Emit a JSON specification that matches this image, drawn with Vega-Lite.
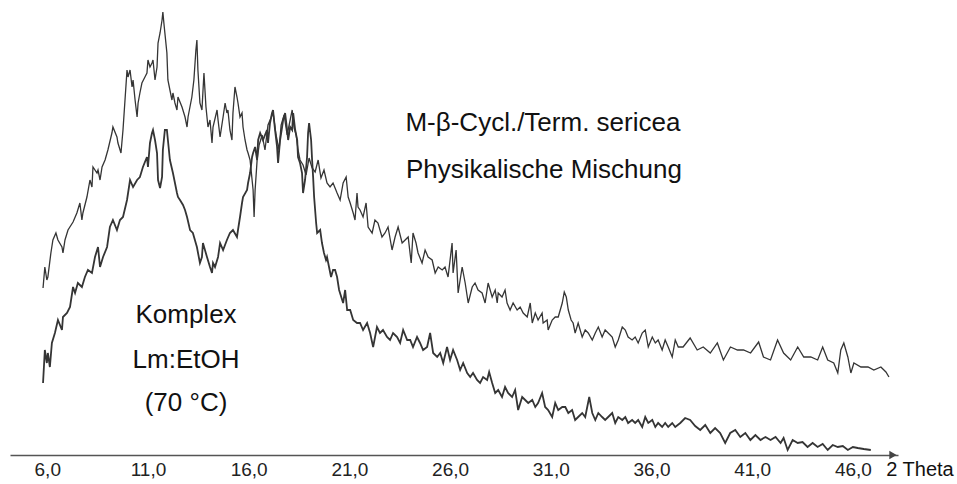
{
  "$schema": "https://vega.github.io/schema/vega-lite/v6.json",
  "width": 888,
  "height": 455,
  "autosize": {"type": "none"},
  "padding": {"left": 10, "right": 59, "top": 0, "bottom": 29},
  "background": "white",
  "config": {"view": {"stroke": null}, "font": "Liberation Sans"},
  "datasets": {
    "P": [
      {"t":5.79,"i":167},{"t":5.88,"i":188},{"t":5.98,"i":175},{"t":6.03,"i":178},{"t":6.18,"i":202},{"t":6.28,"i":215},{"t":6.43,"i":222},{"t":6.53,"i":215},{"t":6.73,"i":208},{"t":6.78,"i":202},{"t":6.88,"i":215},{"t":7.03,"i":225},{"t":7.28,"i":233},{"t":7.47,"i":242},{"t":7.62,"i":252},{"t":7.72,"i":235},{"t":7.77,"i":242},{"t":7.97,"i":258},{"t":8.12,"i":275},{"t":8.22,"i":268},{"t":8.27,"i":288},{"t":8.47,"i":282},{"t":8.52,"i":285},{"t":8.62,"i":275},{"t":8.72,"i":288},{"t":8.87,"i":295},{"t":9.01,"i":305},{"t":9.21,"i":322},{"t":9.26,"i":328},{"t":9.46,"i":318},{"t":9.51,"i":312},{"t":9.66,"i":302},{"t":9.76,"i":325},{"t":9.86,"i":355},{"t":9.96,"i":385},{"t":10.01,"i":378},{"t":10.11,"i":385},{"t":10.21,"i":368},{"t":10.26,"i":375},{"t":10.36,"i":355},{"t":10.46,"i":338},{"t":10.51,"i":352},{"t":10.60,"i":362},{"t":10.70,"i":372},{"t":10.85,"i":378},{"t":10.95,"i":382},{"t":11.00,"i":395},{"t":11.10,"i":388},{"t":11.20,"i":392},{"t":11.25,"i":395},{"t":11.35,"i":375},{"t":11.45,"i":388},{"t":11.50,"i":412},{"t":11.60,"i":422},{"t":11.70,"i":435},{"t":11.74,"i":443},{"t":11.79,"i":432},{"t":11.84,"i":422},{"t":11.94,"i":402},{"t":11.99,"i":375},{"t":12.09,"i":365},{"t":12.19,"i":355},{"t":12.24,"i":362},{"t":12.34,"i":352},{"t":12.44,"i":345},{"t":12.49,"i":358},{"t":12.69,"i":348},{"t":12.84,"i":338},{"t":12.94,"i":328},{"t":12.99,"i":338},{"t":13.18,"i":358},{"t":13.28,"i":375},{"t":13.38,"i":405},{"t":13.43,"i":415},{"t":13.48,"i":385},{"t":13.58,"i":352},{"t":13.68,"i":345},{"t":13.78,"i":382},{"t":13.88,"i":348},{"t":13.98,"i":328},{"t":14.08,"i":335},{"t":14.18,"i":312},{"t":14.23,"i":328},{"t":14.43,"i":345},{"t":14.48,"i":335},{"t":14.58,"i":318},{"t":14.73,"i":338},{"t":14.83,"i":352},{"t":14.92,"i":342},{"t":14.97,"i":345},{"t":15.07,"i":325},{"t":15.17,"i":315},{"t":15.22,"i":342},{"t":15.32,"i":368},{"t":15.42,"i":358},{"t":15.47,"i":352},{"t":15.57,"i":338},{"t":15.67,"i":342},{"t":15.72,"i":328},{"t":15.82,"i":315},{"t":15.92,"i":305},{"t":15.97,"i":302},{"t":16.07,"i":295},{"t":16.12,"i":285},{"t":16.22,"i":265},{"t":16.27,"i":238},{"t":16.32,"i":265},{"t":16.42,"i":295},{"t":16.52,"i":310},{"t":16.67,"i":320},{"t":16.81,"i":305},{"t":16.96,"i":330},{"t":17.11,"i":337},{"t":17.21,"i":343},{"t":17.36,"i":320},{"t":17.51,"i":305},{"t":17.61,"i":330},{"t":17.76,"i":340},{"t":17.91,"i":320},{"t":18.06,"i":335},{"t":18.16,"i":345},{"t":18.26,"i":327},{"t":18.36,"i":320},{"t":18.45,"i":305},{"t":18.55,"i":295},{"t":18.70,"i":290},{"t":18.85,"i":280},{"t":19.00,"i":297},{"t":19.15,"i":287},{"t":19.30,"i":283},{"t":19.45,"i":295},{"t":19.59,"i":277},{"t":19.74,"i":285},{"t":19.89,"i":272},{"t":20.04,"i":268},{"t":20.19,"i":272},{"t":20.39,"i":262},{"t":20.54,"i":255},{"t":20.69,"i":272},{"t":20.84,"i":278},{"t":20.94,"i":258},{"t":21.04,"i":252},{"t":21.19,"i":242},{"t":21.28,"i":235},{"t":21.38,"i":262},{"t":21.43,"i":248},{"t":21.53,"i":245},{"t":21.68,"i":238},{"t":21.83,"i":252},{"t":21.93,"i":228},{"t":22.13,"i":222},{"t":22.27,"i":235},{"t":22.42,"i":232},{"t":22.62,"i":218},{"t":22.77,"i":222},{"t":22.92,"i":228},{"t":23.12,"i":205},{"t":23.27,"i":218},{"t":23.42,"i":228},{"t":23.62,"i":212},{"t":23.77,"i":215},{"t":23.92,"i":218},{"t":24.07,"i":192},{"t":24.16,"i":222},{"t":24.31,"i":212},{"t":24.41,"i":202},{"t":24.61,"i":192},{"t":24.76,"i":205},{"t":24.91,"i":198},{"t":25.11,"i":195},{"t":25.26,"i":182},{"t":25.41,"i":188},{"t":25.61,"i":185},{"t":25.75,"i":188},{"t":25.90,"i":178},{"t":26.10,"i":212},{"t":26.15,"i":182},{"t":26.30,"i":205},{"t":26.40,"i":162},{"t":26.60,"i":188},{"t":26.75,"i":172},{"t":26.90,"i":152},{"t":27.10,"i":168},{"t":27.24,"i":172},{"t":27.39,"i":165},{"t":27.59,"i":162},{"t":27.74,"i":152},{"t":27.89,"i":172},{"t":28.09,"i":158},{"t":28.24,"i":165},{"t":28.34,"i":152},{"t":28.39,"i":162},{"t":28.58,"i":158},{"t":28.73,"i":165},{"t":28.83,"i":152},{"t":28.98,"i":145},{"t":29.13,"i":152},{"t":29.33,"i":145},{"t":29.48,"i":148},{"t":29.63,"i":142},{"t":29.83,"i":138},{"t":29.98,"i":152},{"t":30.08,"i":132},{"t":30.23,"i":142},{"t":30.37,"i":135},{"t":30.57,"i":142},{"t":30.62,"i":132},{"t":30.82,"i":135},{"t":30.87,"i":125},{"t":31.07,"i":135},{"t":31.22,"i":138},{"t":31.37,"i":138},{"t":31.57,"i":152},{"t":31.67,"i":163},{"t":31.77,"i":158},{"t":31.87,"i":145},{"t":32.01,"i":135},{"t":32.11,"i":132},{"t":32.21,"i":122},{"t":32.36,"i":132},{"t":32.56,"i":118},{"t":32.71,"i":125},{"t":32.86,"i":122},{"t":33.06,"i":115},{"t":33.21,"i":122},{"t":33.36,"i":128},{"t":33.55,"i":118},{"t":33.70,"i":125},{"t":33.85,"i":122},{"t":34.05,"i":118},{"t":34.20,"i":108},{"t":34.35,"i":115},{"t":34.55,"i":128},{"t":34.70,"i":125},{"t":34.84,"i":118},{"t":35.04,"i":115},{"t":35.19,"i":118},{"t":35.34,"i":112},{"t":35.54,"i":122},{"t":35.69,"i":125},{"t":35.84,"i":108},{"t":36.04,"i":118},{"t":36.19,"i":112},{"t":36.33,"i":115},{"t":36.53,"i":105},{"t":36.68,"i":115},{"t":36.83,"i":108},{"t":37.03,"i":98},{"t":37.18,"i":115},{"t":37.33,"i":108},{"t":37.57,"i":108},{"t":37.92,"i":117},{"t":38.27,"i":105},{"t":38.57,"i":108},{"t":38.92,"i":102},{"t":39.27,"i":112},{"t":39.57,"i":95},{"t":39.92,"i":108},{"t":40.27,"i":105},{"t":40.57,"i":105},{"t":40.92,"i":102},{"t":41.32,"i":113},{"t":41.56,"i":98},{"t":41.91,"i":95},{"t":42.26,"i":115},{"t":42.56,"i":102},{"t":42.91,"i":95},{"t":43.26,"i":108},{"t":43.56,"i":98},{"t":43.91,"i":98},{"t":44.25,"i":95},{"t":44.50,"i":108},{"t":44.75,"i":95},{"t":45.05,"i":92},{"t":45.25,"i":82},{"t":45.40,"i":105},{"t":45.55,"i":112},{"t":45.75,"i":98},{"t":45.90,"i":82},{"t":46.05,"i":92},{"t":46.40,"i":88},{"t":46.75,"i":88},{"t":47.04,"i":85},{"t":47.39,"i":88},{"t":47.64,"i":83},{"t":47.79,"i":78}
    ],
    "K": [
      {"t":5.79,"i":72},{"t":5.88,"i":105},{"t":5.98,"i":92},{"t":6.03,"i":102},{"t":6.13,"i":88},{"t":6.23,"i":112},{"t":6.38,"i":122},{"t":6.53,"i":135},{"t":6.73,"i":125},{"t":6.78,"i":138},{"t":6.98,"i":142},{"t":7.13,"i":148},{"t":7.28,"i":168},{"t":7.38,"i":162},{"t":7.52,"i":172},{"t":7.72,"i":168},{"t":7.87,"i":178},{"t":8.02,"i":185},{"t":8.22,"i":182},{"t":8.37,"i":198},{"t":8.52,"i":208},{"t":8.62,"i":188},{"t":8.77,"i":198},{"t":8.97,"i":208},{"t":9.11,"i":228},{"t":9.26,"i":235},{"t":9.46,"i":225},{"t":9.61,"i":235},{"t":9.76,"i":238},{"t":9.96,"i":255},{"t":10.11,"i":275},{"t":10.26,"i":268},{"t":10.46,"i":275},{"t":10.60,"i":278},{"t":10.75,"i":288},{"t":10.95,"i":298},{"t":11.00,"i":288},{"t":11.10,"i":312},{"t":11.20,"i":322},{"t":11.25,"i":325},{"t":11.35,"i":315},{"t":11.45,"i":302},{"t":11.50,"i":275},{"t":11.60,"i":267},{"t":11.70,"i":278},{"t":11.74,"i":305},{"t":11.84,"i":325},{"t":11.94,"i":325},{"t":11.99,"i":315},{"t":12.09,"i":295},{"t":12.24,"i":282},{"t":12.44,"i":262},{"t":12.49,"i":258},{"t":12.59,"i":255},{"t":12.74,"i":250},{"t":12.84,"i":245},{"t":12.94,"i":238},{"t":13.09,"i":225},{"t":13.23,"i":222},{"t":13.43,"i":208},{"t":13.58,"i":192},{"t":13.68,"i":198},{"t":13.73,"i":212},{"t":13.93,"i":198},{"t":14.08,"i":188},{"t":14.18,"i":182},{"t":14.23,"i":192},{"t":14.33,"i":188},{"t":14.48,"i":198},{"t":14.58,"i":212},{"t":14.73,"i":205},{"t":14.92,"i":215},{"t":15.07,"i":222},{"t":15.22,"i":225},{"t":15.42,"i":218},{"t":15.47,"i":225},{"t":15.57,"i":238},{"t":15.67,"i":252},{"t":15.72,"i":258},{"t":15.92,"i":265},{"t":15.97,"i":272},{"t":16.07,"i":282},{"t":16.17,"i":298},{"t":16.22,"i":302},{"t":16.32,"i":308},{"t":16.42,"i":295},{"t":16.47,"i":315},{"t":16.57,"i":322},{"t":16.71,"i":315},{"t":16.91,"i":325},{"t":16.96,"i":312},{"t":17.06,"i":332},{"t":17.16,"i":342},{"t":17.21,"i":345},{"t":17.31,"i":325},{"t":17.41,"i":308},{"t":17.46,"i":292},{"t":17.56,"i":315},{"t":17.66,"i":328},{"t":17.71,"i":335},{"t":17.81,"i":342},{"t":17.91,"i":325},{"t":17.96,"i":315},{"t":18.06,"i":328},{"t":18.16,"i":325},{"t":18.21,"i":342},{"t":18.31,"i":325},{"t":18.41,"i":315},{"t":18.45,"i":298},{"t":18.55,"i":292},{"t":18.65,"i":282},{"t":18.70,"i":262},{"t":18.80,"i":275},{"t":18.90,"i":298},{"t":18.95,"i":322},{"t":19.00,"i":332},{"t":19.10,"i":315},{"t":19.15,"i":295},{"t":19.20,"i":278},{"t":19.25,"i":258},{"t":19.35,"i":232},{"t":19.40,"i":222},{"t":19.55,"i":225},{"t":19.64,"i":212},{"t":19.74,"i":202},{"t":19.84,"i":195},{"t":19.89,"i":198},{"t":19.99,"i":188},{"t":20.09,"i":178},{"t":20.19,"i":185},{"t":20.29,"i":185},{"t":20.39,"i":178},{"t":20.49,"i":165},{"t":20.69,"i":152},{"t":20.79,"i":165},{"t":20.89,"i":145},{"t":21.04,"i":145},{"t":21.19,"i":135},{"t":21.38,"i":132},{"t":21.53,"i":132},{"t":21.68,"i":125},{"t":21.88,"i":132},{"t":22.03,"i":122},{"t":22.18,"i":108},{"t":22.37,"i":128},{"t":22.52,"i":122},{"t":22.67,"i":125},{"t":22.87,"i":118},{"t":23.02,"i":115},{"t":23.17,"i":122},{"t":23.37,"i":118},{"t":23.52,"i":112},{"t":23.67,"i":125},{"t":23.87,"i":115},{"t":24.02,"i":115},{"t":24.16,"i":108},{"t":24.36,"i":118},{"t":24.51,"i":112},{"t":24.66,"i":105},{"t":24.86,"i":108},{"t":25.01,"i":122},{"t":25.16,"i":102},{"t":25.36,"i":98},{"t":25.51,"i":102},{"t":25.66,"i":92},{"t":25.85,"i":108},{"t":26.00,"i":95},{"t":26.15,"i":105},{"t":26.35,"i":95},{"t":26.50,"i":85},{"t":26.65,"i":92},{"t":26.85,"i":82},{"t":27.00,"i":78},{"t":27.14,"i":82},{"t":27.34,"i":75},{"t":27.49,"i":72},{"t":27.64,"i":78},{"t":27.84,"i":75},{"t":27.94,"i":83},{"t":28.09,"i":72},{"t":28.24,"i":62},{"t":28.39,"i":65},{"t":28.58,"i":58},{"t":28.73,"i":68},{"t":28.88,"i":62},{"t":29.08,"i":58},{"t":29.23,"i":65},{"t":29.38,"i":45},{"t":29.58,"i":58},{"t":29.73,"i":55},{"t":29.88,"i":52},{"t":30.08,"i":55},{"t":30.23,"i":48},{"t":30.37,"i":52},{"t":30.57,"i":62},{"t":30.72,"i":48},{"t":30.87,"i":45},{"t":31.07,"i":38},{"t":31.22,"i":52},{"t":31.37,"i":45},{"t":31.57,"i":48},{"t":31.72,"i":48},{"t":31.87,"i":42},{"t":32.06,"i":45},{"t":32.21,"i":35},{"t":32.36,"i":38},{"t":32.56,"i":42},{"t":32.71,"i":38},{"t":32.91,"i":58},{"t":33.06,"i":42},{"t":33.21,"i":35},{"t":33.36,"i":42},{"t":33.55,"i":38},{"t":33.70,"i":35},{"t":33.85,"i":38},{"t":34.05,"i":42},{"t":34.20,"i":32},{"t":34.35,"i":38},{"t":34.55,"i":35},{"t":34.70,"i":38},{"t":34.84,"i":32},{"t":35.04,"i":35},{"t":35.19,"i":32},{"t":35.34,"i":35},{"t":35.54,"i":28},{"t":35.69,"i":38},{"t":35.84,"i":32},{"t":36.04,"i":35},{"t":36.19,"i":28},{"t":36.33,"i":32},{"t":36.53,"i":28},{"t":36.68,"i":32},{"t":36.83,"i":28},{"t":37.03,"i":32},{"t":37.18,"i":28},{"t":37.43,"i":32},{"t":37.67,"i":37},{"t":37.92,"i":35},{"t":38.17,"i":29},{"t":38.42,"i":25},{"t":38.67,"i":30},{"t":38.92,"i":22},{"t":39.16,"i":27},{"t":39.41,"i":22},{"t":39.66,"i":12},{"t":39.91,"i":22},{"t":40.16,"i":25},{"t":40.41,"i":18},{"t":40.66,"i":22},{"t":40.91,"i":15},{"t":41.16,"i":20},{"t":41.41,"i":15},{"t":41.66,"i":18},{"t":41.91,"i":15},{"t":42.16,"i":18},{"t":42.41,"i":12},{"t":42.56,"i":17},{"t":42.76,"i":5},{"t":43.01,"i":15},{"t":43.26,"i":12},{"t":43.50,"i":13},{"t":43.75,"i":8},{"t":44.00,"i":12},{"t":44.25,"i":8},{"t":44.50,"i":11},{"t":44.75,"i":5},{"t":45.00,"i":10},{"t":45.25,"i":8},{"t":45.50,"i":9},{"t":45.75,"i":5},{"t":46.00,"i":8},{"t":46.24,"i":7},{"t":46.54,"i":6},{"t":46.89,"i":5}
    ],
    "labels": [
      {"t":30.61,"i":332,"text":"M-β-Cycl./Term. sericea","size":26},
      {"t":30.66,"i":285,"text":"Physikalische Mischung","size":26},
      {"t":12.89,"i":140,"text":"Komplex","size":26},
      {"t":12.89,"i":95,"text":"Lm:EtOH","size":26},
      {"t":12.89,"i":52,"text":"(70 °C)","size":26},
      {"t":49.33,"i":-15,"text":"2 Theta","size":20}
    ],
    "arrow": [{"t":47.99,"i":0}]
  },
  "layer": [
    {
      "data": {"name": "P"},
      "mark": {"type": "line", "color": "#353535", "strokeWidth": 1.3},
      "encoding": {
        "x": {"field": "t", "type": "quantitative",
              "scale": {"domain": [4.15, 48.24], "nice": false, "zero": false},
              "axis": {"values": [6, 11, 16, 21, 26, 31, 36, 41, 46],
                       "labelExpr": "replace(format(datum.value, '.1f'), '.', ',')",
                       "title": null, "grid": false, "ticks": false,
                       "domainColor": "#555555", "domainWidth": 1.5,
                       "labelFontSize": 19, "labelColor": "#222222", "labelPadding": 5,
                       "labelFont": "Liberation Sans"}},
        "y": {"field": "i", "type": "quantitative",
              "scale": {"domain": [0, 455], "nice": false, "zero": false},
              "axis": null}
      }
    },
    {
      "data": {"name": "K"},
      "mark": {"type": "line", "color": "#353535", "strokeWidth": 1.8},
      "encoding": {
        "x": {"field": "t", "type": "quantitative"},
        "y": {"field": "i", "type": "quantitative"}
      }
    },
    {
      "data": {"name": "arrow"},
      "mark": {"type": "point", "shape": "triangle-right", "filled": true, "color": "#444444", "size": 70, "opacity": 1},
      "encoding": {
        "x": {"field": "t", "type": "quantitative"},
        "y": {"field": "i", "type": "quantitative"}
      }
    },
    {
      "data": {"name": "labels"},
      "mark": {"type": "text", "align": "center", "baseline": "middle", "color": "#111111", "font": "Liberation Sans"},
      "encoding": {
        "x": {"field": "t", "type": "quantitative"},
        "y": {"field": "i", "type": "quantitative"},
        "text": {"field": "text"},
        "size": {"field": "size", "type": "quantitative", "scale": null}
      }
    }
  ]
}
